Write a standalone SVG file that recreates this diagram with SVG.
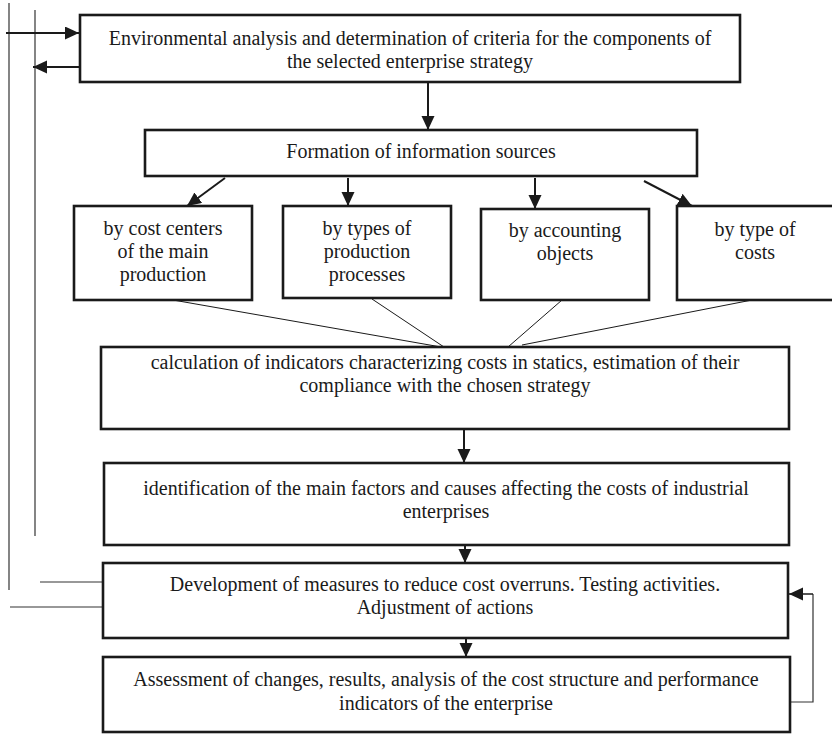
<svg xmlns="http://www.w3.org/2000/svg" width="832" height="735" viewBox="0 0 832 735">
  <style>
    .box { fill: #fff; stroke: #1a1a1a; stroke-width: 2.6; }
    .lbl { font-family: "Liberation Serif", "Times New Roman", serif; font-size: 20px; fill: #1a1a1a; text-anchor: middle; }
    .arr { stroke: #1a1a1a; stroke-width: 2; fill: none; marker-end: url(#head); }
    .thin { stroke: #1a1a1a; stroke-width: 1; fill: none; }
    .side { stroke: #333; stroke-width: 1.2; fill: none; }
  </style>
  <defs>
    <marker id="head" markerUnits="userSpaceOnUse" markerWidth="15" markerHeight="14" refX="14" refY="6.5" orient="auto">
      <path d="M0,0 L14,6.5 L0,13 z" fill="#1a1a1a"/>
    </marker>
  </defs>
  <rect width="832" height="735" fill="#fff"/>

  <!-- connectors -->
  <g id="connectors">
    <!-- left feedback rails -->
    <line class="side" x1="9" y1="3" x2="9" y2="590"/>
    <line class="side" x1="35" y1="10" x2="35" y2="536"/>
    <line class="arr" x1="6" y1="33" x2="79" y2="33"/>
    <line class="arr" x1="80" y1="67" x2="33" y2="67"/>
    <line class="side" x1="40" y1="582" x2="103" y2="582"/>
    <line class="side" x1="10" y1="607" x2="103" y2="607"/>

    <!-- top to sources -->
    <line class="arr" x1="428" y1="83" x2="428" y2="130"/>

    <!-- sources to the four groups -->
    <line class="arr" x1="225" y1="178" x2="187" y2="206"/>
    <line class="arr" x1="348" y1="178" x2="348" y2="206"/>
    <line class="arr" x1="535" y1="178" x2="535" y2="209"/>
    <line class="arr" x1="644" y1="181" x2="692" y2="206"/>

    <!-- groups to calculation -->
    <line class="thin" x1="173" y1="300" x2="441" y2="347"/>
    <line class="thin" x1="372" y1="299" x2="444" y2="347"/>
    <line class="thin" x1="562" y1="300" x2="508" y2="347"/>
    <line class="thin" x1="752" y1="300" x2="522" y2="345"/>

    <!-- vertical chain -->
    <line class="arr" x1="464" y1="430" x2="464" y2="463"/>
    <line class="arr" x1="465" y1="546" x2="465" y2="563"/>
    <line class="arr" x1="466" y1="639" x2="466" y2="657"/>

    <!-- right feedback loop -->
    <polyline class="side" points="790,702 813,702 813,594"/>
    <line class="arr" x1="813" y1="594" x2="789" y2="594" style="stroke-width:1.5"/>
  </g>

  <g id="n-environment">
    <rect class="box" x="80" y="15" width="660" height="67"/>
    <text class="lbl" x="410" y="45">Environmental analysis and determination of criteria for the components of</text>
    <text class="lbl" x="410" y="68">the selected enterprise strategy</text>
  </g>

  <g id="n-sources">
    <rect class="box" x="145" y="130" width="552" height="46"/>
    <text class="lbl" x="421" y="158">Formation of information sources</text>
  </g>

  <g id="n-cost-centers">
    <rect class="box" x="74" y="206" width="178" height="94"/>
    <text class="lbl" x="163" y="235">by cost centers</text>
    <text class="lbl" x="163" y="258">of the main</text>
    <text class="lbl" x="163" y="281">production</text>
  </g>

  <g id="n-processes">
    <rect class="box" x="283" y="206" width="168" height="92"/>
    <text class="lbl" x="367" y="235">by types of</text>
    <text class="lbl" x="367" y="258">production</text>
    <text class="lbl" x="367" y="281">processes</text>
  </g>

  <g id="n-objects">
    <rect class="box" x="481" y="209" width="168" height="91"/>
    <text class="lbl" x="565" y="237">by accounting</text>
    <text class="lbl" x="565" y="260">objects</text>
  </g>

  <g id="n-cost-types">
    <rect class="box" x="677" y="206" width="157" height="94"/>
    <text class="lbl" x="755" y="236">by type of</text>
    <text class="lbl" x="755" y="259">costs</text>
  </g>

  <g id="n-calculation">
    <rect class="box" x="101" y="347" width="688" height="82"/>
    <text class="lbl" x="445" y="369">calculation of indicators characterizing costs in statics, estimation of their</text>
    <text class="lbl" x="445" y="392">compliance with the chosen strategy</text>
  </g>

  <g id="n-factors">
    <rect class="box" x="104" y="463" width="685" height="82"/>
    <text class="lbl" x="446" y="495">identification of the main factors and causes affecting the costs of industrial</text>
    <text class="lbl" x="446" y="518">enterprises</text>
  </g>

  <g id="n-measures">
    <rect class="box" x="103" y="563" width="685" height="75"/>
    <text class="lbl" x="445" y="591">Development of measures to reduce cost overruns. Testing activities.</text>
    <text class="lbl" x="445" y="614">Adjustment of actions</text>
  </g>

  <g id="n-assessment">
    <rect class="box" x="103" y="657" width="687" height="75"/>
    <text class="lbl" x="446" y="686">Assessment of changes, results, analysis of the cost structure and performance</text>
    <text class="lbl" x="446" y="710">indicators of the enterprise</text>
  </g>
</svg>
